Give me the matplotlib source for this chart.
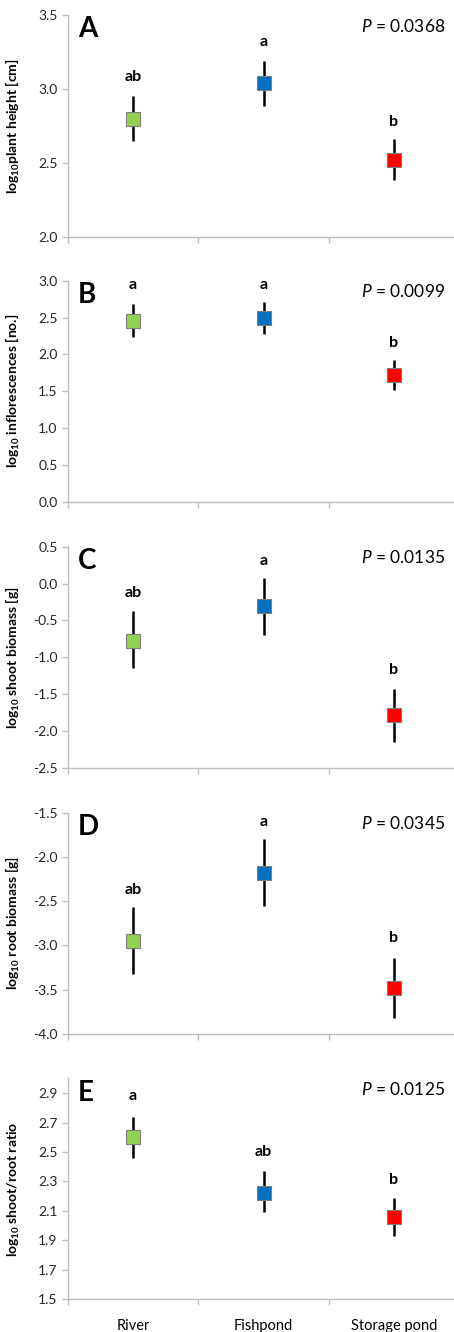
import numpy as np
import matplotlib
matplotlib.use('Agg')
import matplotlib.pyplot as plt

plt.rcParams['font.family'] = ['Lato', 'DejaVu Sans']
plt.rcParams['mathtext.fontset'] = 'custom'
plt.rcParams['mathtext.rm'] = 'Lato'
plt.rcParams['mathtext.it'] = 'Lato:italic'
plt.rcParams['mathtext.bf'] = 'Lato:bold'

sites = ['River', 'Fishpond', 'Storage pond']
colors = ['#92d050', '#0070c0', '#ff0000']

# values (mean, upper and lower end of error bar)
height_mean = [2.80, 3.04, 2.52]
height_hi = [2.95, 3.19, 2.66]
height_lo = [2.65, 2.885, 2.385]
height_letters = ['ab', 'a', 'b']
height_letter_y = [3.08, 3.32, 2.78]

infl_mean = [2.45, 2.49, 1.72]
infl_hi = [2.68, 2.715, 1.92]
infl_lo = [2.23, 2.28, 1.52]
infl_letters = ['a', 'a', 'b']
infl_letter_y = [2.94, 2.94, 2.15]

shoot_mean = [-0.78, -0.31, -1.78]
shoot_hi = [-0.37, 0.08, -1.43]
shoot_lo = [-1.15, -0.70, -2.15]
shoot_letters = ['ab', 'a', 'b']
shoot_letter_y = [-0.13, 0.31, -1.17]

root_mean = [-2.95, -2.18, -3.48]
root_hi = [-2.56, -1.80, -3.14]
root_lo = [-3.32, -2.55, -3.82]
root_letters = ['ab', 'a', 'b']
root_letter_y = [-2.37, -1.60, -2.92]

ratio_mean = [2.60, 2.22, 2.06]
ratio_hi = [2.74, 2.37, 2.19]
ratio_lo = [2.46, 2.09, 1.93]
ratio_letters = ['a', 'ab', 'b']
ratio_letter_y = [2.88, 2.50, 2.31]

panels = [
    ('A', 'P = 0.0368', r'$\mathbf{log_{10}}$plant height [cm]',
     height_mean, height_hi, height_lo, height_letters, height_letter_y,
     (2.0, 3.5), np.arange(2.0, 3.51, 0.5)),
    ('B', 'P = 0.0099', r'$\mathbf{log_{10}}$ inflorescences [no.]',
     infl_mean, infl_hi, infl_lo, infl_letters, infl_letter_y,
     (0.0, 3.0), np.arange(0.0, 3.01, 0.5)),
    ('C', 'P = 0.0135', r'$\mathbf{log_{10}}$ shoot biomass [g]',
     shoot_mean, shoot_hi, shoot_lo, shoot_letters, shoot_letter_y,
     (-2.5, 0.5), np.arange(-2.5, 0.51, 0.5)),
    ('D', 'P = 0.0345', r'$\mathbf{log_{10}}$ root biomass [g]',
     root_mean, root_hi, root_lo, root_letters, root_letter_y,
     (-4.0, -1.5), np.arange(-4.0, -1.49, 0.5)),
    ('E', 'P = 0.0125', r'$\mathbf{log_{10}}$ shoot/root ratio',
     ratio_mean, ratio_hi, ratio_lo, ratio_letters, ratio_letter_y,
     (1.5, 3.0), np.arange(1.5, 2.91, 0.2)),
]

# axes boxes in pixels: (top, bottom)
W, H = 454, 1332
boxes = [(15, 237), (280.7, 501.7), (546.7, 767.7), (812.7, 1034), (1078.3, 1299.3)]
left_px, right_px = 68, 459

fig = plt.figure(figsize=(W / 100, H / 100), dpi=100)
grey = '#bfbfbf'
x = np.arange(3) + 0.5

for (top, bot), p in zip(boxes, panels):
    letter, ptxt, ylab, mean, hi, lo, lets, lety, ylim, yt = p
    ax = fig.add_axes([left_px / W, 1 - bot / H, (right_px - left_px) / W, (bot - top) / H])
    mean = np.array(mean)
    err = [mean - np.array(lo), np.array(hi) - mean]
    ax.errorbar(x, mean, yerr=err, fmt='none', ecolor='black', elinewidth=1.8, capsize=0, zorder=2)
    for i in range(3):
        ax.plot(x[i], mean[i], 's', ms=10.5, mfc=colors[i], mec='#7f7f7f', mew=0.8, zorder=3)
        ax.text(x[i], lety[i], lets[i], ha='center', va='center', fontsize=11.5, fontweight='bold')
    ax.set_xlim(0, 3)
    ax.set_ylim(*ylim)
    ax.set_yticks(yt)
    ax.set_yticklabels(['%.1f' % v for v in yt])
    ax.set_xticks([0, 1, 2, 3])
    ax.set_xticklabels([])
    ax.set_xticks(x, minor=True)
    ax.tick_params(axis='x', which='minor', length=0, labelsize=10.5, pad=14)
    for s in ['top', 'right']:
        ax.spines[s].set_visible(False)
    for s in ['left', 'bottom']:
        ax.spines[s].set_color(grey)
        ax.spines[s].set_linewidth(1.0)
    ax.tick_params(axis='both', which='major', color=grey, length=4, width=1.0, labelsize=10, colors='#404040')
    ax.tick_params(axis='y', labelcolor='#262626')
    ax.set_ylabel(ylab, fontsize=10, fontweight='bold')
    ax.yaxis.set_label_coords(-0.118, 0.5)
    ax.text(0.025, 0.935, letter, transform=ax.transAxes, fontsize=20, fontweight='bold', va='center', ha='left')
    ax.text(0.965, 0.95, r'$P$' + ptxt[1:], transform=ax.transAxes, fontsize=12.5, va='center', ha='right')
    if letter == 'E':
        ax.set_xticklabels(sites, minor=True)

fig.savefig('out.png', dpi=100)
